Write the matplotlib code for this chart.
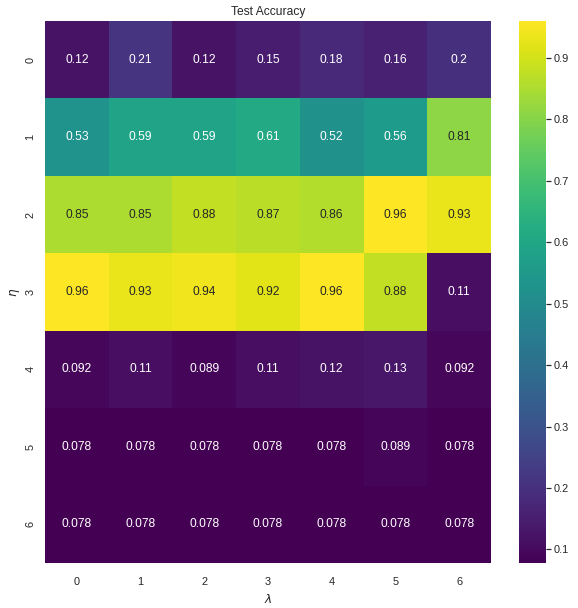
import matplotlib
matplotlib.use('Agg')
import matplotlib.pyplot as plt
import seaborn as sns
import numpy as np

# eta (rows) x lambda (cols) test accuracy grid
eta_labels = ['0', '1', '2', '3', '4', '5', '6']
lmbda_labels = ['0', '1', '2', '3', '4', '5', '6']

row0 = [0.12, 0.21, 0.12, 0.15, 0.18, 0.16, 0.20]
row1 = [0.53, 0.59, 0.59, 0.61, 0.52, 0.56, 0.81]
row2 = [0.85, 0.85, 0.88, 0.87, 0.86, 0.96, 0.93]
row3 = [0.96, 0.93, 0.94, 0.92, 0.96, 0.88, 0.11]
row4 = [0.092, 0.11, 0.089, 0.11, 0.12, 0.13, 0.092]
row5 = [0.078, 0.078, 0.078, 0.078, 0.078, 0.089, 0.078]
row6 = [0.078, 0.078, 0.078, 0.078, 0.078, 0.078, 0.078]

acc = np.array([row0, row1, row2, row3, row4, row5, row6])

sns.set_theme()
plt.rcParams['font.family'] = ['Liberation Sans', 'DejaVu Sans']

W, H = 578, 608
fig = plt.figure(figsize=(W / 72, H / 72), dpi=72)
ax = fig.add_axes([45 / W, 1 - 563 / H, 446 / W, 542 / H])
cax = fig.add_axes([519 / W, 1 - 563 / H, 27 / W, 542 / H])

sns.heatmap(acc, annot=True, cmap='viridis', ax=ax, cbar_ax=cax,
            xticklabels=lmbda_labels, yticklabels=eta_labels,
            annot_kws={'fontsize': 12})
plt.setp(ax.get_yticklabels(), rotation=90, va='center')
ax.tick_params(axis='x', pad=8)
cax.tick_params(axis='y', right=True, length=5, width=1.2, color='.15', pad=3)
ax.set_title('Test Accuracy', fontsize=12)
ax.set_xlabel(r'$\lambda$', fontsize=12, labelpad=6)
ax.set_ylabel(r'$\eta$', fontsize=12)

fig.savefig('out.png', dpi=72)
